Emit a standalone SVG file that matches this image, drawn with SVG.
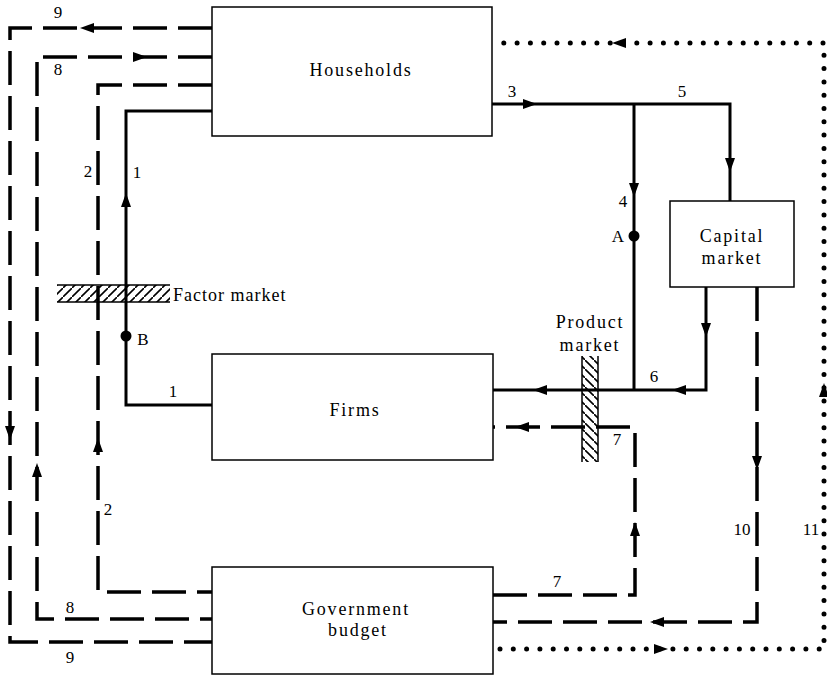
<svg xmlns="http://www.w3.org/2000/svg" width="827" height="676" viewBox="0 0 827 676">
<style>
.box{fill:#fff;stroke:#000;stroke-width:1.5}
.lbl{font-family:"Liberation Serif",serif;font-size:18px;letter-spacing:1.8px;fill:#000;text-anchor:middle}
.num{font-family:"Liberation Serif",serif;font-size:17px;fill:#000;text-anchor:middle}
.solid{fill:none;stroke:#000;stroke-width:3}
.dash{fill:none;stroke:#000;stroke-width:3.5;stroke-dasharray:34 11}
.dot{fill:none;stroke:#000;stroke-width:5;stroke-linecap:round;stroke-dasharray:0 13.3}
.ah{fill:#000}
</style>
<defs>
<path id="ah" d="M0,0 L-14,-5 L-14,5 Z"/>
<pattern id="hatchF" patternUnits="userSpaceOnUse" width="9" height="9">
<path d="M-1,10 L10,-1" stroke="#000" stroke-width="1.6"/>
</pattern>
<pattern id="hatchP" patternUnits="userSpaceOnUse" width="9" height="9">
<path d="M-1,-1 L10,10" stroke="#000" stroke-width="1.6"/>
</pattern>
</defs>
<rect width="827" height="676" fill="#fff"/>

<g id="connectors">
<!-- 9 -->
<path class="dash" d="M212,28 H10 V642 H212"/>
<use href="#ah" class="ah" transform="translate(80,28) rotate(180)"/>
<use href="#ah" class="ah" transform="translate(10,440) rotate(90)"/>
<!-- 8 -->
<path class="dash" d="M212,57 H37 V619 H212"/>
<use href="#ah" class="ah" transform="translate(147,57)"/>
<use href="#ah" class="ah" transform="translate(37,463) rotate(-90)"/>
<!-- 2 -->
<path class="dash" d="M212,85 H98 V592 H212"/>
<use href="#ah" class="ah" transform="translate(98,438) rotate(-90)"/>
<!-- 1 -->
<path class="solid" d="M212,111 H126 V405 H212"/>
<use href="#ah" class="ah" transform="translate(126,193) rotate(-90)"/>
<circle cx="126" cy="336" r="5.5" fill="#000"/>
<!-- 3 / 5 -->
<path class="solid" d="M492,104 H730 V201"/>
<use href="#ah" class="ah" transform="translate(537,104)"/>
<use href="#ah" class="ah" transform="translate(730,172) rotate(90)"/>
<!-- 4 -->
<path class="solid" d="M634,104 V390"/>
<use href="#ah" class="ah" transform="translate(634,197) rotate(90)"/>
<circle cx="634" cy="236" r="5.5" fill="#000"/>
<!-- 6 -->
<path class="solid" d="M706,287 V390 H493"/>
<use href="#ah" class="ah" transform="translate(706,337) rotate(90)"/>
<use href="#ah" class="ah" transform="translate(672,390) rotate(180)"/>
<use href="#ah" class="ah" transform="translate(533,390) rotate(180)"/>
<!-- 7 -->
<path class="dash" d="M493,595 H635 V427 H493"/>
<use href="#ah" class="ah" transform="translate(635,522) rotate(-90)"/>
<use href="#ah" class="ah" transform="translate(515,427) rotate(180)"/>
<!-- 10 -->
<path class="dash" d="M757,287 V622 H493"/>
<use href="#ah" class="ah" transform="translate(757,470) rotate(90)"/>
<use href="#ah" class="ah" transform="translate(650,622) rotate(180)"/>
<!-- 11 -->
<path class="dot" d="M500,649 H824 V43 H500"/>
<use href="#ah" class="ah" transform="translate(668,649)"/>
<use href="#ah" class="ah" transform="translate(824,383) rotate(-90)"/>
<use href="#ah" class="ah" transform="translate(612,43) rotate(180)"/>
</g>

<g id="households">
<rect class="box" x="212" y="7" width="280" height="129"/>
<text class="lbl" x="361" y="76">Households</text>
</g>
<g id="firms">
<rect class="box" x="212" y="354" width="281" height="106"/>
<text class="lbl" x="355" y="416">Firms</text>
</g>
<g id="government">
<rect class="box" x="212" y="567" width="281" height="107"/>
<text class="lbl" x="356" y="615">Government</text>
<text class="lbl" x="358" y="636">budget</text>
</g>
<g id="capital">
<rect class="box" x="670" y="201" width="124" height="86"/>
<text class="lbl" x="732" y="242">Capital</text>
<text class="lbl" x="732" y="264">market</text>
</g>
<g id="factor-market">
<rect x="57" y="285" width="113" height="17" fill="url(#hatchF)"/>
<path d="M57,285 H170 M57,302 H170" stroke="#000" stroke-width="1.5"/>
<text class="lbl" x="173" y="301" style="text-anchor:start;letter-spacing:1px">Factor market</text>
</g>
<g id="product-market">
<rect x="582" y="356" width="16" height="106" fill="url(#hatchP)"/>
<path d="M582,356 V462 M598,356 V462" stroke="#000" stroke-width="1.5"/>
<text class="lbl" x="590" y="328">Product</text>
<text class="lbl" x="590" y="351">market</text>
</g>

<g id="labels">
<text class="num" x="58" y="18">9</text>
<text class="num" x="58" y="75">8</text>
<text class="num" x="88" y="177">2</text>
<text class="num" x="137" y="178">1</text>
<text class="num" x="173" y="397">1</text>
<text class="num" x="143" y="345">B</text>
<text class="num" x="512" y="97">3</text>
<text class="num" x="682" y="97">5</text>
<text class="num" x="623" y="207">4</text>
<text class="num" x="618" y="242">A</text>
<text class="num" x="654" y="382">6</text>
<text class="num" x="617" y="445">7</text>
<text class="num" x="557" y="587">7</text>
<text class="num" x="108" y="515">2</text>
<text class="num" x="70" y="613">8</text>
<text class="num" x="70" y="663">9</text>
<text class="num" x="742" y="535">10</text>
<text class="num" x="811" y="535">11</text>
</g>
</svg>
